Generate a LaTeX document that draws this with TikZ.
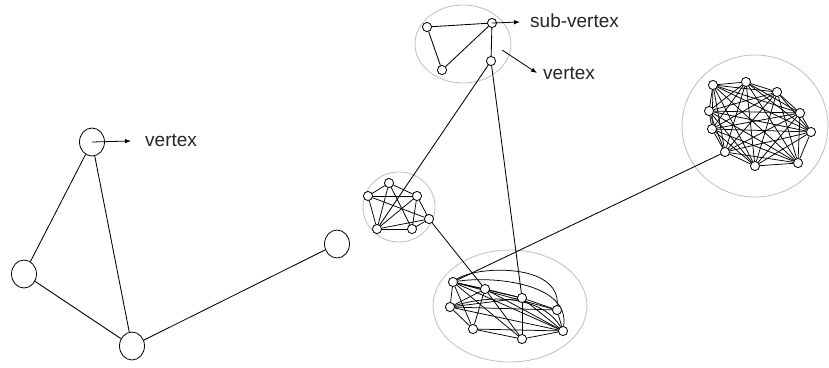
\documentclass[tikz,border=0pt]{standalone}
\usepackage{fontspec}
\setmainfont{Liberation Sans}
\usetikzlibrary{shapes.geometric,arrows.meta}

\tikzset{
  big/.style={ellipse, draw, line width=0.8pt, inner sep=0pt, minimum width=25pt, minimum height=28pt},
  sv/.style={circle, draw, fill=white, line width=0.7pt, inner sep=0pt, minimum size=9pt},
  link/.style={line width=0.85pt},
  dense/.style={line width=0.75pt},
  cluster/.style={draw=black!25, line width=0.8pt},
  pointer/.style={line width=0.8pt, -{Latex[length=6pt,width=4.5pt]}},
  lbl/.style={font=\fontsize{19pt}{21pt}\selectfont, anchor=west, inner sep=0pt, text=black!85}
}

\begin{document}
\begin{tikzpicture}[x=1pt,y=-1pt]
\useasboundingbox (0,0) rectangle (829,367);
\fill[white] (0,0) rectangle (829,367);

% ---------- simple graph: four vertices ----------
\node[big] (v1) at (92,142) {};
\node[big] (v2) at (24,274) {};
\node[big] (v3) at (132,346) {};
\node[big] (v4) at (337,244) {};
\draw[link] (v1) -- (v2);
\draw[link] (v1) -- (v3);
\draw[link] (v2) -- (v3);
\draw[link] (v3) -- (v4);
\coordinate (p1) at (131,141);
\draw[pointer] (v1.center) -- (p1);
\node[lbl] (l1) at (145,140) {vertex};

% ---------- cluster outlines ----------
\draw[cluster] (463,44) ellipse [x radius=48pt, y radius=39pt];
\draw[cluster] (399,207) ellipse [x radius=36pt, y radius=35pt];
\draw[cluster] (510,306) ellipse [x radius=77pt, y radius=56pt];
\draw[cluster] (755,126) ellipse [x radius=73pt, y radius=71pt];

% ---------- top cluster ----------
\node[sv] (t1) at (427,27) {};
\node[sv] (t2) at (492,23) {};
\node[sv] (t3) at (442,70) {};
\node[sv] (t4) at (491,61) {};
\draw[link] (t1) -- (t2);
\draw[link] (t1) -- (t3);
\draw[link] (t3) -- (t2);
\draw[link] (t2) -- (t4);

% ---------- middle cluster ----------
\node[sv] (m1) at (389,183) {};
\node[sv] (m2) at (368,196) {};
\node[sv] (m3) at (417,196) {};
\node[sv] (m4) at (429,219) {};
\node[sv] (m5) at (377,229) {};
\node[sv] (m6) at (412,229) {};
\foreach \a/\b in {m1/m2, m1/m3, m1/m5, m1/m6, m2/m3, m2/m5, m2/m4,
                   m3/m5, m3/m4, m4/m6, m5/m6, m5/m4, m3/m6}
  \draw[dense] (\a) -- (\b);

% ---------- bottom cluster ----------
\node[sv] (b1) at (453,282) {};
\node[sv] (b2) at (485,289) {};
\node[sv] (b3) at (522,298) {};
\node[sv] (b4) at (557,310) {};
\node[sv] (b5) at (563,331) {};
\node[sv] (b6) at (522,339) {};
\node[sv] (b7) at (473,329) {};
\node[sv] (b8) at (450,307) {};
\foreach \a/\b in {b1/b2, b1/b3, b1/b4, b1/b5, b1/b6, b1/b7, b1/b8,
                   b2/b3, b2/b5, b2/b7, b2/b8, b2/b6, b3/b4, b3/b5, b3/b6,
                   b3/b8, b4/b5, b5/b6, b5/b7, b6/b7, b7/b8, b8/b4, b8/b5}
  \draw[dense] (\a) -- (\b);
\draw[dense] (b1) .. controls (475,266) and (560,262) .. (b4);
\draw[dense] (b8) .. controls (500,292) and (545,300) .. (b5);
\draw[dense] (b1) .. controls (490,276) and (570,282) .. (b5);

% ---------- right cluster ----------
\node[sv] (r1) at (713,85) {};
\node[sv] (r2) at (746,82) {};
\node[sv] (r3) at (777,92) {};
\node[sv] (r4) at (800,113) {};
\node[sv] (r5) at (811,132) {};
\node[sv] (r6) at (798,163) {};
\node[sv] (r7) at (755,166) {};
\node[sv] (r8) at (725,152) {};
\node[sv] (r9) at (712,129) {};
\node[sv] (r10) at (709,111) {};
\foreach \i in {1,...,9} {
  \pgfmathtruncatemacro\k{\i+1}
  \foreach \j in {\k,...,10}
    \draw[dense] (r\i) -- (r\j);
}

% ---------- links between clusters ----------
\draw[link] (t4) -- (m5);
\draw[link] (t4) -- (b3);
\draw[link] (m4) -- (b2);
\draw[link] (b1) -- (r8);

% redraw sub-vertices on top of the links
\foreach \n in {t1,t2,t3,t4,m1,m2,m3,m4,m5,m6,b1,b2,b3,b4,b5,b6,b7,b8,
                r1,r2,r3,r4,r5,r6,r7,r8,r9,r10}
  \node[sv] at (\n) {};

% ---------- labels ----------
\coordinate (p2) at (520,22);
\draw[pointer] (t2.center) -- (p2);
\node[lbl] (l2) at (530,21) {sub-vertex};
\coordinate (q3) at (502,50);
\coordinate (p3) at (537,73);
\draw[pointer] (q3) -- (p3);
\node[lbl] (l3) at (543,73) {vertex};
\end{tikzpicture}
\end{document}
